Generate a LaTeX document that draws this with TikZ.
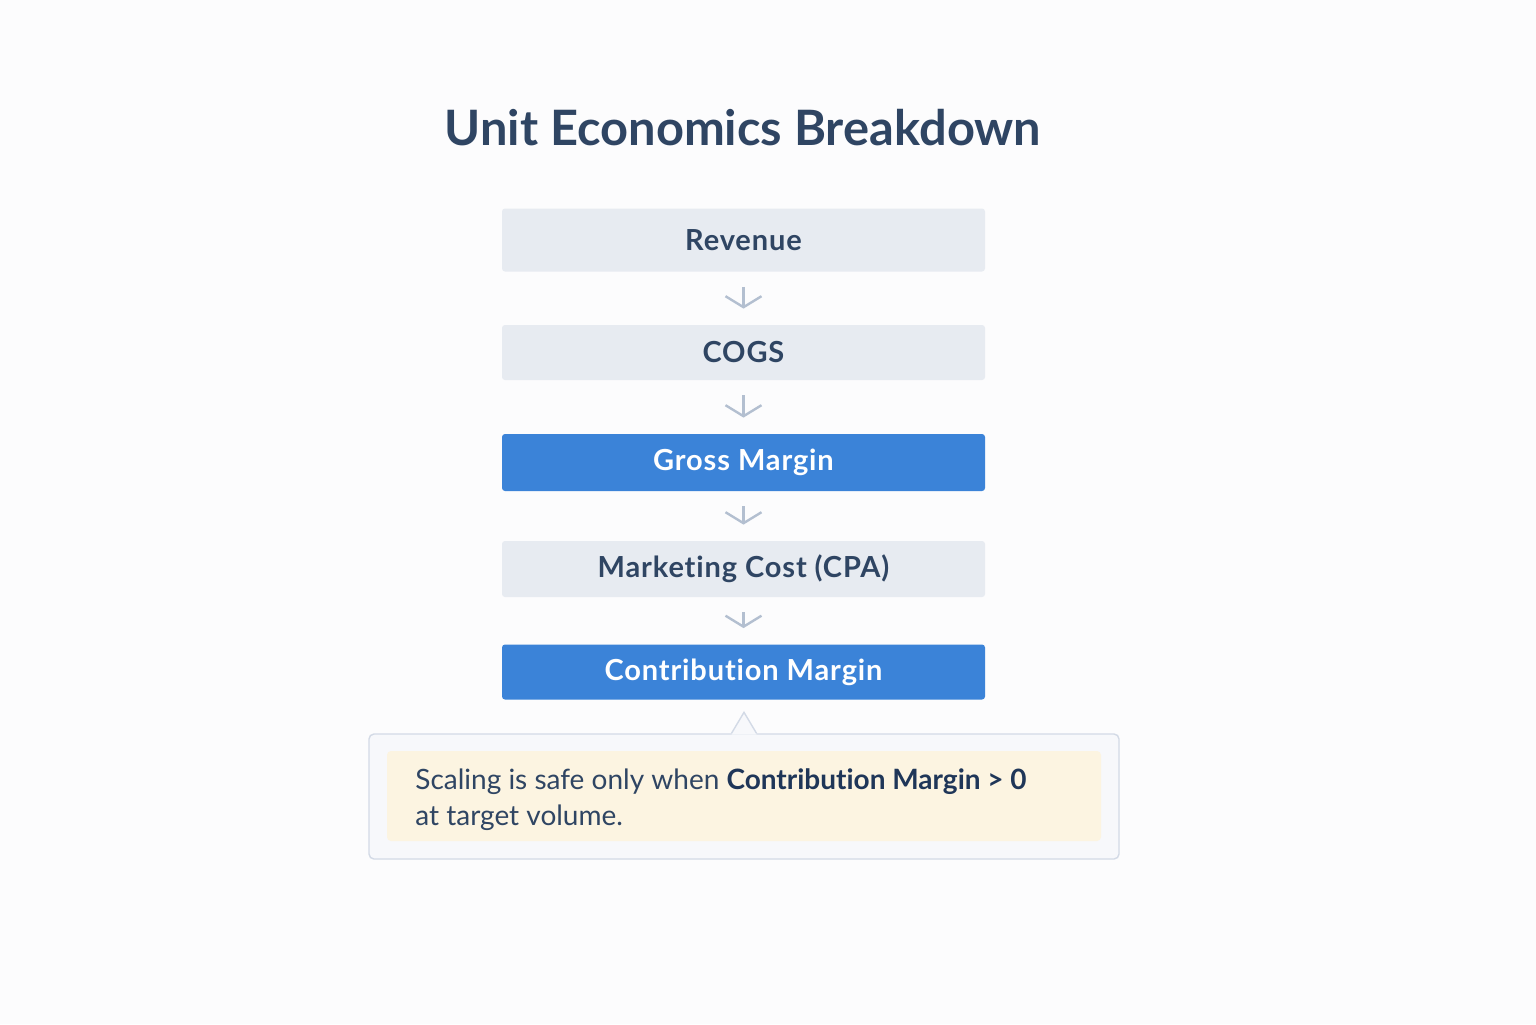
\documentclass[tikz,border=0pt]{standalone}
\usepackage{fontspec}
\setmainfont{Lato}[Ligatures={NoCommon,NoRare}]
\usetikzlibrary{arrows.meta}

\definecolor{pagebg}{HTML}{FCFCFD}
\definecolor{inkdark}{HTML}{2F4563}
\definecolor{inkbold}{HTML}{1F3658}
\definecolor{stepgray}{HTML}{E7EBF1}
\definecolor{stepblue}{HTML}{3B83D8}
\definecolor{arrowgray}{HTML}{B3BFD0}
\definecolor{noteline}{HTML}{D3DAE6}
\definecolor{notefill}{HTML}{F7F8FB}
\definecolor{tipfill}{HTML}{FCF4E1}

\tikzset{
    stepbox/.style={rounded corners=1.5pt, minimum width=241.5pt, minimum height=29pt,
        font=\fontsize{14.5}{16}\selectfont\bfseries\addfontfeatures{LetterSpace=3}, inner sep=0pt},
    plainstep/.style={stepbox, fill=stepgray, text=inkdark},
    keystep/.style={stepbox, fill=stepblue, text=white},
    flow/.style={draw=arrowgray, line width=1.2pt, shorten >=8pt, shorten <=7.5pt,
        -{Straight Barb[length=5.5pt, width=18pt, line width=1.2pt]}},
}

\begin{document}
\begin{tikzpicture}[x=0.5pt,y=-0.5pt]
    \fill[pagebg] (0,0) rectangle (1536,1024);

    \node[text=inkdark, font=\fontsize{24.4}{28}\selectfont\bfseries] (title) at (743,128) {Unit Economics Breakdown};

    \node[plainstep, minimum height=31.5pt] (rev) at (743.5,240) {Revenue};
    \node[plainstep, minimum height=27.5pt] (cogs) at (743.5,352.5) {COGS};
    \node[keystep, minimum height=28.5pt] (gm) at (743.5,462.5) {Gross Margin};
    \node[plainstep, minimum height=28pt] (cpa) at (743.5,569) {Marketing Cost (CPA)};
    \node[keystep, minimum height=27.5pt] (cm) at (743.5,672) {Contribution Margin};

    \draw[flow] (rev) -- (cogs);
    \draw[flow] (cogs) -- (gm);
    \draw[flow] (gm) -- (cpa);
    \draw[flow] (cpa) -- (cm);

    % callout under the last step
    \node[draw=noteline, fill=notefill, line width=0.7pt, rounded corners=2.5pt,
        minimum width=375pt, minimum height=62.5pt] (note) at (744,796.5) {};
    \fill[notefill] ([xshift=-6.25pt,yshift=-0.6pt]note.north) -- ([yshift=10.5pt]note.north)
        -- ([xshift=6.25pt,yshift=-0.6pt]note.north) -- cycle;
    \draw[noteline, line width=0.7pt] ([xshift=-6.25pt]note.north) -- ([yshift=10.5pt]note.north)
        -- ([xshift=6.25pt]note.north);
    \node[fill=tipfill, rounded corners=2pt, minimum width=357pt, minimum height=45pt] (tip) at (744,796) {};
    \node[anchor=west, align=left, text=inkdark, inner sep=0pt,
        font=\fontsize{14}{18}\selectfont] (tiptext) at (415,800)
        {Scaling is safe only when \textcolor{inkbold}{\bfseries Contribution Margin > 0}\\at target volume.};
\end{tikzpicture}
\end{document}
